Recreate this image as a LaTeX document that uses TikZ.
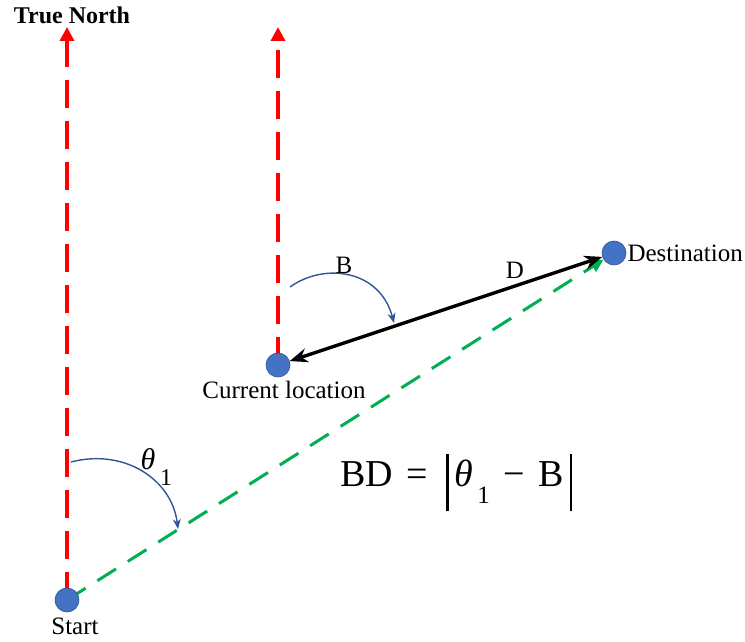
\documentclass[tikz,border=0pt]{standalone}
\usepackage{fontspec}
\setmainfont{Liberation Serif}
\usepackage{xcolor}
\definecolor{dotblue}{HTML}{4472C4}
\definecolor{dotedge}{HTML}{2F528F}
\definecolor{arcblue}{HTML}{2F5597}
\definecolor{north}{HTML}{FF0000}
\definecolor{path}{HTML}{00B050}
\usetikzlibrary{arrows.meta,positioning,backgrounds}
\tikzset{
  dot/.style={circle,fill=dotblue,draw=dotedge,line width=0.6pt,minimum size=24pt,inner sep=0pt},
  lab/.style={font=\fontsize{25}{28}\selectfont,inner sep=0pt},
  northarr/.style={-{Triangle[length=14pt,width=14pt]},draw=north,line width=4pt,dash pattern=on 28pt off 13pt},
  patharr/.style={-{Triangle[length=13pt,width=12pt]},draw=path,line width=3pt,dash pattern=on 22pt off 14pt},
  legarr/.style={{Stealth[length=18pt,width=14pt]}-{Stealth[length=18pt,width=14pt]},draw=black,line width=3.4pt},
  anglearr/.style={-{Stealth[length=10pt,width=8pt]},draw=arcblue,line width=1.4pt},
}
\begin{document}
\begin{tikzpicture}[x=1pt,y=-1pt]
\useasboundingbox (0,0) rectangle (745,642);
% points
\node[dot] (start) at (67,600) {};
\node[dot] (cur) at (278,365) {};
\node[dot] (dest) at (614,253) {};
\coordinate (startN) at (67,27);
\coordinate (curN) at (278,27);
\node[lab,below=5pt of start,xshift=8pt] (startlab) {Start};
\node[lab,below=4pt of cur,xshift=6pt] (curlab) {Current location};
\node[lab,right=1pt of dest] (destlab) {Destination};
\node[lab,font=\fontsize{24}{28}\selectfont\bfseries] (truenorth) at (72,15) {True North};
% headings and track
\begin{scope}[on background layer]
\draw[northarr] (start.center) -- (startN);
\draw[northarr] (cur.center) -- (curN);
\draw[patharr] (start.center) -- (dest);
\end{scope}
\draw[legarr] (cur) -- (dest) node[lab,pos=0.72,above=6pt] (dlab) {D};
% angles
\coordinate (t1a) at (71,462);
\coordinate (t1b) at (178,529);
\coordinate (ba) at (290,287);
\coordinate (bb) at (394,323);
\draw[anglearr] (t1a) .. controls (125,448) and (172,480) .. (t1b);
\draw[anglearr] (ba) .. controls (325,262) and (380,270) .. (bb);
\node[lab,font=\fontsize{30}{32}\selectfont] (theta) at (148,459) {\textit{θ}};
\node[lab,font=\fontsize{24}{28}\selectfont] (thetasub) at (166,478) {1};
\node[lab] (blab) at (344,265) {B};
% formula
\node[lab,font=\fontsize{38}{40}\selectfont,anchor=base west] (eq) at (340,486)
  {BD\hspace*{14pt}=\hspace*{18pt}\raisebox{-25pt}{\rule{2.4pt}{57pt}}\hspace*{6pt}\textit{θ}\hspace*{4pt}\raisebox{-17pt}{\fontsize{25}{28}\selectfont 1}\hspace*{14pt}−\hspace*{13pt}B\hspace*{6pt}\raisebox{-25pt}{\rule{2.4pt}{57pt}}};
\end{tikzpicture}
\end{document}
